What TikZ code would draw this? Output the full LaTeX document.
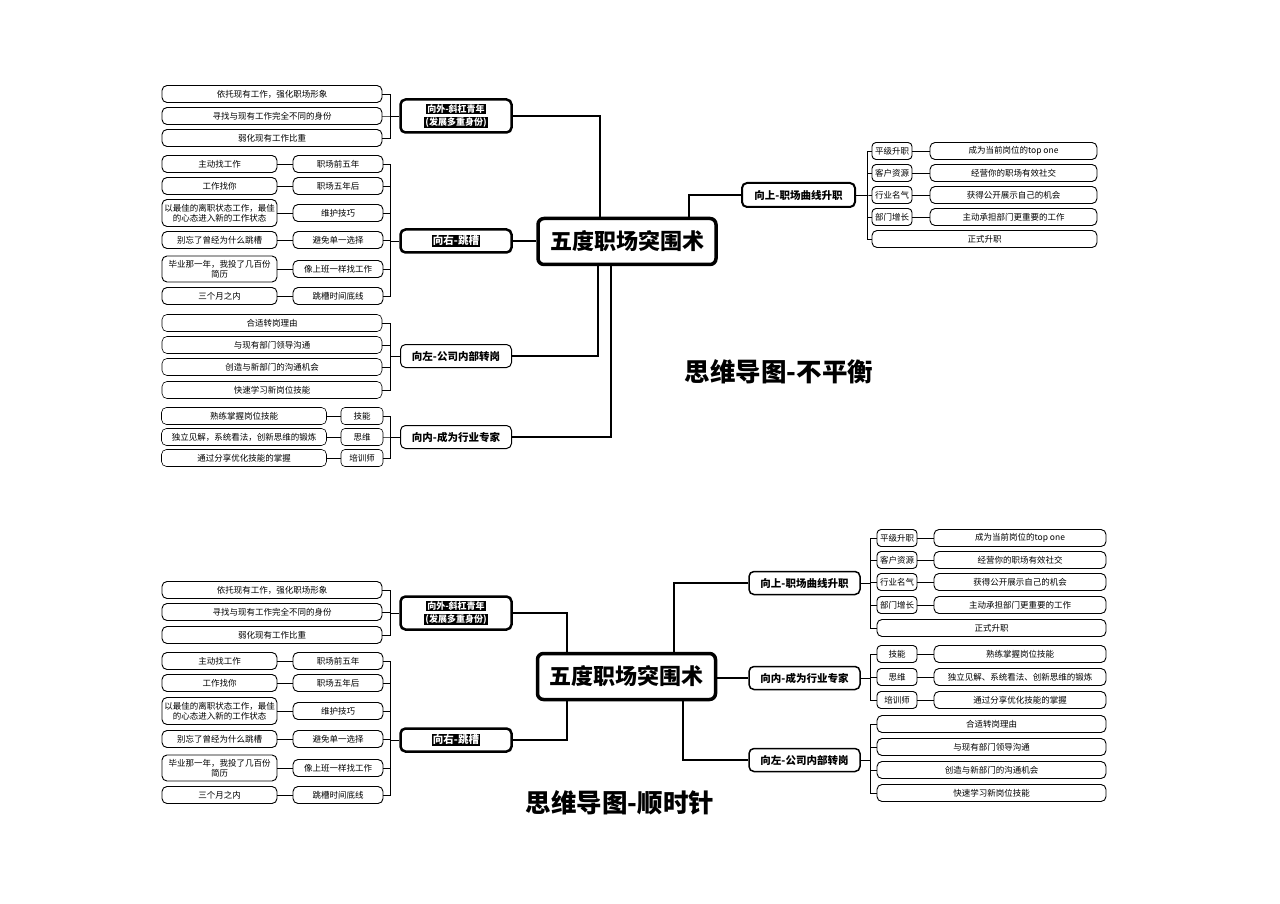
\documentclass[tikz,border=0pt]{standalone}
\usepackage{fontspec}
\setmainfont{Noto Sans CJK SC}
\newcommand{\blk}[1]{{\setlength{\fboxsep}{1pt}\colorbox{black}{\textcolor{white}{#1}}}}
\begin{document}
\begin{tikzpicture}[x=1pt,y=-1pt,
  item/.style={draw, rounded corners=5pt, line width=0.9pt, minimum height=17, inner sep=0pt, align=center, fill=white, font=\fontsize{8.5}{10.5}\selectfont},
  small/.style={draw, rounded corners=4pt, line width=0.9pt, minimum height=17, minimum width=40, inner sep=0pt, fill=white, font=\fontsize{8.5}{10}\selectfont},
  cat/.style={draw, rounded corners=5pt, line width=1.5pt, minimum height=23, minimum width=111, inner sep=0pt, fill=white, font=\bfseries\fontsize{10.5}{12}\selectfont},
  hlbox/.style={draw, rounded corners=5pt, line width=2.5pt, minimum width=111, inner sep=0pt, align=center, fill=white, font=\bfseries\fontsize{9}{12}\selectfont},
  central/.style={draw, rounded corners=6pt, line width=3.5pt, minimum width=178, minimum height=46, inner sep=0pt, fill=white, font=\bfseries\fontsize{22}{26}\selectfont},
  title/.style={font=\bfseries\fontsize{25.5}{29}\selectfont},
  conn/.style={line width=1.2pt},
  br/.style={line width=0.8pt}
]
\useasboundingbox (0,0) rectangle (1280,904);
\fill[white] (0,0) rectangle (1280,904);

%% ================= TOP: 不平衡 =================
\node[central] (C1) at (627,241.5) {五度职场突围术};
\node[title] (T1) at (779,372) {思维导图-不平衡};

% 向外
\node[hlbox, minimum height=33] (O1) at (456,116) {\blk{向外-斜杠青年}\\[1pt]\blk{(发展多重身份)}};
\node[item, minimum width=220] (o11) at (272,94) {依托现有工作，强化职场形象};
\node[item, minimum width=220] (o12) at (272,116) {寻找与现有工作完全不同的身份};
\node[item, minimum width=220] (o13) at (272,138) {弱化现有工作比重};
\foreach \n in {o11,o12,o13} \draw[br] (\n.east) -- ++(8,0) |- (O1.west);
\draw[conn] (O1.east) -| ([xshift=-27pt]C1.north);

% 向右
\node[hlbox, minimum height=23, font=\bfseries\fontsize{10.5}{12}\selectfont] (R1) at (456,241) {\blk{向右-跳槽}};
\draw[conn] (R1.east) -- (R1.east -| C1.west);
\node[item, minimum width=115] (ra1) at (219.5,164) {主动找工作};
\node[item, minimum width=90] (rb1) at (338,164) {职场前五年};
\node[item, minimum width=115] (ra2) at (219.5,186) {工作找你};
\node[item, minimum width=90] (rb2) at (338,186) {职场五年后};
\node[item, minimum width=115, minimum height=27] (ra3) at (219.5,213) {以最佳的离职状态工作，最佳\\的心态进入新的工作状态};
\node[item, minimum width=90] (rb3) at (338,213) {维护技巧};
\node[item, minimum width=115] (ra4) at (219.5,240) {别忘了曾经为什么跳槽};
\node[item, minimum width=90] (rb4) at (338,240) {避免单一选择};
\node[item, minimum width=115, minimum height=26] (ra5) at (219.5,269) {毕业那一年，我投了几百份\\简历};
\node[item, minimum width=90] (rb5) at (338,269) {像上班一样找工作};
\node[item, minimum width=115] (ra6) at (219.5,296) {三个月之内};
\node[item, minimum width=90] (rb6) at (338,296) {跳槽时间底线};
\foreach \i in {1,...,6} {
  \draw[br] (ra\i.east) -- (rb\i.west);
  \draw[br] (rb\i.east) -- ++(7,0) |- (R1.west);
}

% 向左
\node[cat, line width=1pt] (L1) at (456,356) {向左-公司内部转岗};
\draw[conn] (L1.east) -| ([xshift=-29pt]C1.south);
\node[item, minimum width=220, line width=0.6pt] (l11) at (272,323) {合适转岗理由};
\node[item, minimum width=220, line width=0.6pt] (l12) at (272,345) {与现有部门领导沟通};
\node[item, minimum width=220, line width=0.6pt] (l13) at (272,367) {创造与新部门的沟通机会};
\node[item, minimum width=220, line width=0.6pt] (l14) at (272,390) {快速学习新岗位技能};
\foreach \n in {l11,l12,l13,l14} \draw[br] (\n.east) -- ++(8,0) |- (L1.west);

% 向内
\node[cat, line width=1pt] (I1) at (456,437) {向内-成为行业专家};
\draw[conn] (I1.east) -| ([xshift=-16pt]C1.south);
\node[small, minimum width=42, line width=0.6pt] (ia1) at (362,416) {技能};
\node[small, minimum width=42, line width=0.6pt] (ia2) at (362,437) {思维};
\node[small, minimum width=42, line width=0.6pt] (ia3) at (362,458) {培训师};
\node[item, minimum width=165, line width=0.6pt] (ib1) at (244,416) {熟练掌握岗位技能};
\node[item, minimum width=165, line width=0.6pt] (ib2) at (244,437) {独立见解，系统看法，创新思维的锻炼};
\node[item, minimum width=165, line width=0.6pt] (ib3) at (244,458) {通过分享优化技能的掌握};
\foreach \i in {1,2,3} {
  \draw[br] (ib\i.east) -- (ia\i.west);
  \draw[br] (ia\i.east) -- ++(7,0) |- (I1.west);
}

% 向上
\node[cat, minimum width=113, minimum height=24, line width=2pt] (U1) at (798.5,195) {向上-职场曲线升职};
\draw[conn] ([xshift=62pt]C1.north) |- (U1.west);
\node[small] (ua1) at (892,151) {平级升职};
\node[small] (ua2) at (892,173) {客户资源};
\node[small] (ua3) at (892,195) {行业名气};
\node[small] (ua4) at (892,217) {部门增长};
\node[item, minimum width=167] (ub1) at (1013.5,151) {成为当前岗位的top one};
\node[item, minimum width=167] (ub2) at (1013.5,173) {经营你的职场有效社交};
\node[item, minimum width=167] (ub3) at (1013.5,195) {获得公开展示自己的机会};
\node[item, minimum width=167] (ub4) at (1013.5,217) {主动承担部门更重要的工作};
\node[item, minimum width=225] (ub5) at (984.5,239) {正式升职};
\foreach \i in {1,...,4} {
  \draw[br] (ua\i.east) -- (ub\i.west);
  \draw[br] (U1.east) -- ++(11,0) |- (ua\i.west);
}
\draw[br] (U1.east) -- ++(11,0) |- (ub5.west);

%% ================= BOTTOM: 顺时针 =================
\node[central] (C2) at (626.5,676.5) {五度职场突围术};
\node[title] (T2) at (620,803) {思维导图-顺时针};

% 向外
\node[hlbox, minimum height=33] (O2) at (456,613) {\blk{向外-斜杠青年}\\[1pt]\blk{(发展多重身份)}};
\node[item, minimum width=220] (o21) at (272,590) {依托现有工作，强化职场形象};
\node[item, minimum width=220] (o22) at (272,612) {寻找与现有工作完全不同的身份};
\node[item, minimum width=220] (o23) at (272,635) {弱化现有工作比重};
\foreach \n in {o21,o22,o23} \draw[br] (\n.east) -- ++(8,0) |- (O2.west);
\draw[conn] (O2.east) -| ([xshift=-59.5pt]C2.north);

% 向右
\node[hlbox, minimum height=23, font=\bfseries\fontsize{10.5}{12}\selectfont] (R2) at (456,740) {\blk{向右-跳槽}};
\draw[conn] (R2.east) -| ([xshift=-59.5pt]C2.south);
\node[item, minimum width=115] (sa1) at (219.5,661) {主动找工作};
\node[item, minimum width=90] (sb1) at (338,661) {职场前五年};
\node[item, minimum width=115] (sa2) at (219.5,683) {工作找你};
\node[item, minimum width=90] (sb2) at (338,683) {职场五年后};
\node[item, minimum width=115, minimum height=27] (sa3) at (219.5,711) {以最佳的离职状态工作，最佳\\的心态进入新的工作状态};
\node[item, minimum width=90] (sb3) at (338,711) {维护技巧};
\node[item, minimum width=115] (sa4) at (219.5,739) {别忘了曾经为什么跳槽};
\node[item, minimum width=90] (sb4) at (338,739) {避免单一选择};
\node[item, minimum width=115, minimum height=26] (sa5) at (219.5,768) {毕业那一年，我投了几百份\\简历};
\node[item, minimum width=90] (sb5) at (338,768) {像上班一样找工作};
\node[item, minimum width=115] (sa6) at (219.5,795) {三个月之内};
\node[item, minimum width=90] (sb6) at (338,795) {跳槽时间底线};
\foreach \i in {1,...,6} {
  \draw[br] (sa\i.east) -- (sb\i.west);
  \draw[br] (sb\i.east) -- ++(7,0) |- (R2.west);
}

% 向上
\node[cat] (U2) at (804.5,583) {向上-职场曲线升职};
\draw[conn] ([xshift=47.5pt]C2.north) |- (U2.west);
\node[small] (va1) at (897,538) {平级升职};
\node[small] (va2) at (897,560) {客户资源};
\node[small] (va3) at (897,582) {行业名气};
\node[small] (va4) at (897,605) {部门增长};
\node[item, minimum width=172] (vb1) at (1020,538) {成为当前岗位的top one};
\node[item, minimum width=172] (vb2) at (1020,560) {经营你的职场有效社交};
\node[item, minimum width=172] (vb3) at (1020,582) {获得公开展示自己的机会};
\node[item, minimum width=172] (vb4) at (1020,605) {主动承担部门更重要的工作};
\node[item, minimum width=229] (vb5) at (991.5,628) {正式升职};
\foreach \i in {1,...,4} {
  \draw[br] (va\i.east) -- (vb\i.west);
  \draw[br] (U2.east) -- ++(10,0) |- (va\i.west);
}
\draw[br] (U2.east) -- ++(10,0) |- (vb5.west);

% 向内
\node[cat] (I2) at (804.5,678) {向内-成为行业专家};
\draw[conn] (C2.east |- I2.west) -- (I2.west);
\node[small] (wa1) at (897,654) {技能};
\node[small] (wa2) at (897,677) {思维};
\node[small] (wa3) at (897,700) {培训师};
\node[item, minimum width=172] (wb1) at (1020,654) {熟练掌握岗位技能};
\node[item, minimum width=172] (wb2) at (1020,677) {独立见解、系统看法、创新思维的锻炼};
\node[item, minimum width=172] (wb3) at (1020,700) {通过分享优化技能的掌握};
\foreach \i in {1,2,3} {
  \draw[br] (wa\i.east) -- (wb\i.west);
  \draw[br] (I2.east) -- ++(10,0) |- (wa\i.west);
}

% 向左
\node[cat] (L2) at (804.5,760) {向左-公司内部转岗};
\draw[conn] ([xshift=56.5pt]C2.south) |- (L2.west);
\node[item, minimum width=229] (xb1) at (991.5,724) {合适转岗理由};
\node[item, minimum width=229] (xb2) at (991.5,747) {与现有部门领导沟通};
\node[item, minimum width=229] (xb3) at (991.5,770) {创造与新部门的沟通机会};
\node[item, minimum width=229] (xb4) at (991.5,793) {快速学习新岗位技能};
\foreach \n in {xb1,xb2,xb3,xb4} \draw[br] (L2.east) -- ++(10,0) |- (\n.west);

\end{tikzpicture}
\end{document}
